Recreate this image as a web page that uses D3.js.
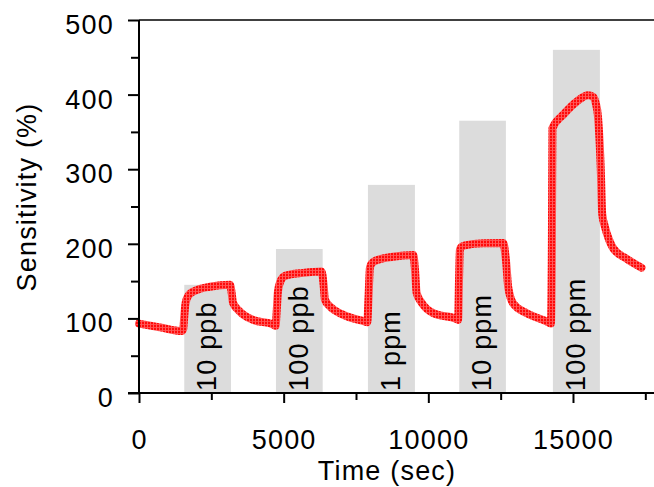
<!DOCTYPE html>
<html>
<head>
<meta charset="utf-8">
<script src="https://cdn.jsdelivr.net/npm/d3@7"></script>
<style>
  body { margin: 0; background: #fff; }
  svg text { font-family: "Liberation Sans", Arial, sans-serif; }
</style>
</head>
<body>
<svg id="chart" width="654" height="487"></svg>
<script>
// sensor response curve (time in sec, sensitivity in %)
const times = [0, 726, 1475, 1530, 1560, 1600, 1648, 1762, 1994, 2453, 3144, 3200, 3248, 3490, 3939, 4630, 4720,
  4760, 4800, 4872, 5045, 5667, 6313, 6380, 6427, 6600, 7049, 7751, 7890,
  7935, 7982, 8050, 8214, 8777, 9478, 9540, 9596, 9769, 10169, 10978, 11030,
  11060, 11092, 11150, 11265, 11897, 12588, 12690, 12761, 12934, 13397, 14088, 14237,
  14271, 14290, 14662, 15124, 15525, 15700, 15790, 15860, 15960, 16010, 16102, 16250, 16389, 16852, 17370];
const sensitivity = [93, 88, 83, 86, 100, 118, 126, 133, 138, 142.5, 145, 135, 121, 109, 98, 92, 90,
  110, 135, 148, 157, 161, 163, 145, 125, 116, 105, 96.5, 95,
  130, 168, 174, 178, 182.7, 185, 165, 134, 121, 107, 99, 98,
  150, 192, 196, 198, 200.7, 201, 175, 142, 120, 107, 96, 93,
  200, 355, 373, 390.5, 399, 397, 388, 372, 300, 240, 223, 205, 194, 180, 168];

// gas exposure windows (grey bands)
const bandStart = [1565, 4734, 7913, 11068, 14306];
const bandEnd = [3180, 6348, 9537, 12681, 15930];
const bandTop = [145, 193, 279, 365, 460];
const bandLabels = ['10 ppb', '100 ppb', '1 ppm', '10 ppm', '100 ppm'];

const yMajor = [0, 100, 200, 300, 400, 500];
const yMinor = [50, 150, 250, 350, 450];
const xMajor = [0, 5000, 10000, 15000];
const xMinor = [2500, 7500, 12500, 17500];

const svg = d3.select('#chart');
const pLeft = 139, pRight = 654, pTop = 20, pBottom = 393;
const fs = 27, ls = 1.2;

const x = d3.scaleLinear().domain([0, 17800]).range([pLeft, pRight]);
const y = d3.scaleLinear().domain([0, 500]).range([pBottom, pTop]);

// texture for the thick marker line
const defs = svg.append('defs');
const pat = defs.append('pattern')
  .attr('id', 'hatch')
  .attr('patternUnits', 'userSpaceOnUse')
  .attr('width', 3).attr('height', 3);
pat.append('rect').attr('width', 3).attr('height', 3).attr('fill', '#ff0a0a');
pat.append('rect').attr('width', 3).attr('height', 1).attr('fill', '#ff4a4a');
pat.append('rect').attr('width', 1).attr('height', 3).attr('fill', '#ff5a5a');

// bands
svg.append('g').selectAll('rect')
  .data(bandStart)
  .join('rect')
  .attr('x', d => x(d))
  .attr('width', (d, i) => x(bandEnd[i]) - x(d))
  .attr('y', (d, i) => y(bandTop[i]))
  .attr('height', (d, i) => y(0) - y(bandTop[i]))
  .attr('fill', '#dcdcdc');

// band labels, rotated
svg.append('g').selectAll('text')
  .data(bandLabels)
  .join('text')
  .attr('transform', (d, i) => {
    const cx = (x(bandStart[i]) + x(bandEnd[i])) / 2 + 8.5;
    return `translate(${cx},${y(0) - 2}) rotate(-90)`;
  })
  .attr('font-size', fs)
  .attr('letter-spacing', ls)
  .attr('fill', '#000')
  .text(d => d);

// response curve
const line = d3.line()
  .x((d, i) => x(times[i]))
  .y(d => y(d))
  .curve(d3.curveMonotoneX);

svg.append('path')
  .datum(sensitivity)
  .attr('d', line)
  .attr('fill', 'none')
  .attr('stroke', 'url(#hatch)')
  .attr('stroke-width', 8)
  .attr('stroke-linejoin', 'round')
  .attr('stroke-linecap', 'round');

// frame top line
svg.append('line')
  .attr('x1', pLeft).attr('x2', pRight)
  .attr('y1', pTop).attr('y2', pTop)
  .attr('stroke', '#000').attr('stroke-width', 1.5);

// y axis
const yAxis = svg.append('g').attr('transform', `translate(${pLeft},0)`)
  .call(d3.axisLeft(y).tickValues(yMajor).tickSize(11).tickPadding(14));
svg.append('g').attr('transform', `translate(${pLeft},0)`)
  .call(d3.axisLeft(y).tickValues(yMinor).tickSize(8).tickFormat(''))
  .select('.domain').remove();

// x axis
const xAxis = svg.append('g').attr('transform', `translate(0,${pBottom})`)
  .call(d3.axisBottom(x).tickValues(xMajor).tickFormat(d3.format('d'))
    .tickSize(10).tickPadding(27).tickSizeOuter(0));
svg.append('g').attr('transform', `translate(0,${pBottom})`)
  .call(d3.axisBottom(x).tickValues(xMinor).tickSize(7).tickFormat(''))
  .select('.domain').remove();

svg.selectAll('.domain').attr('stroke-width', 2);
svg.selectAll('.tick line').attr('stroke-width', 2);
svg.selectAll('.tick text')
  .attr('font-size', fs)
  .attr('letter-spacing', ls)
  .attr('fill', '#000');
yAxis.selectAll('.tick text').attr('dy', '0.5em');
yAxis.select('.domain').attr('d', `M0,${pBottom}V${pTop}`);
xAxis.select('.domain').attr('d', `M${pLeft - 11},0H${pRight}`);

// axis titles
svg.append('text')
  .attr('x', 387).attr('y', 480)
  .attr('text-anchor', 'middle')
  .attr('font-size', fs)
  .attr('letter-spacing', ls)
  .text('Time (sec)');

svg.append('text')
  .attr('transform', 'translate(36,197) rotate(-90)')
  .attr('text-anchor', 'middle')
  .attr('font-size', fs)
  .attr('letter-spacing', ls)
  .text('Sensitivity (%)');
</script>
</body>
</html>
